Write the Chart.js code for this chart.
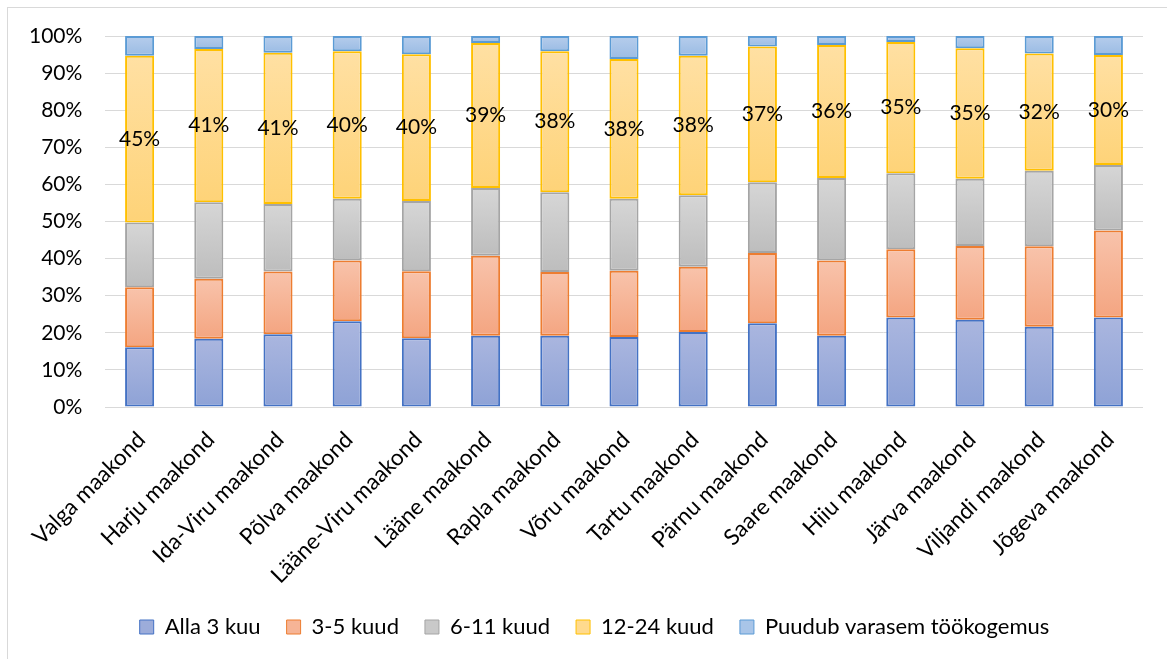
<!DOCTYPE html>
<html>
<head>
<meta charset="utf-8">
<script src="https://cdn.jsdelivr.net/npm/chart.js@4"></script>
<style>
  html, body { margin: 0; padding: 0; background: #fff; }
  #wrap { position: relative; width: 1167px; height: 659px; overflow: hidden; }
  #frame { position: absolute; left: 7px; top: 7px; width: 1200px; height: 700px; border: 1px solid #d9d9d9; box-sizing: border-box; }
  #c { position: absolute; left: 0; top: 0; }
</style>
</head>
<body>
<div id="wrap">
  <div id="frame"></div>
  <canvas id="c" width="1167" height="659"></canvas>
</div>
<script>
const categories = ["Valga maakond", "Harju maakond", "Ida-Viru maakond", "Põlva maakond", "Lääne-Viru maakond", "Lääne maakond", "Rapla maakond", "Võru maakond", "Tartu maakond", "Pärnu maakond", "Saare maakond", "Hiiu maakond", "Järva maakond", "Viljandi maakond", "Jõgeva maakond"];
const seriesNames = ["Alla 3 kuu", "3-5 kuud", "6-11 kuud", "12-24 kuud", "Puudub varasem töökogemus"];
const alla3kuu   = [16.1, 18.4, 19.6, 23.1, 18.5, 19.2, 19.2, 18.9, 20.2, 22.6, 19.2, 24.1, 23.5, 21.6, 24.1];
const kuud3_5    = [16.2, 16.2, 16.9, 16.4, 18.1, 21.6, 17.2, 17.8, 17.6, 18.9, 20.3, 18.4, 19.9, 21.7, 23.5];
const kuud6_11   = [17.4, 20.6, 18.2, 16.6, 18.9, 18.2, 21.5, 19.4, 19.3, 19.1, 22.2, 20.5, 18.1, 20.4, 17.6];
const kuud12_24  = [45.0, 41.3, 40.8, 39.8, 39.6, 39.1, 38.0, 37.7, 37.6, 36.6, 35.9, 35.4, 35.2, 31.6, 29.7];
const puudub     = [5.3, 3.5, 4.5, 4.1, 4.9, 1.9, 4.1, 6.2, 5.3, 2.8, 2.4, 1.6, 3.3, 4.7, 5.1];
const yTicks = [0, 10, 20, 30, 40, 50, 60, 70, 80, 90, 100];

const FONT = "Lato";
const styles = [
  { top: "#aab6df", bottom: "#8ea2d6", mid: "#9cacda", border: "#4472c4" },
  { top: "#f8c3ab", bottom: "#f4a581", mid: "#f6b496", border: "#ed7d31" },
  { top: "#d6d6d6", bottom: "#bdbdbd", mid: "#c9c9c9", border: "#a5a5a5" },
  { top: "#ffe0a3", bottom: "#fed378", mid: "#ffda8e", border: "#ffc000" },
  { top: "#b6cdec", bottom: "#9bbce4", mid: "#a9c5e8", border: "#5b9bd5" }
];

function gradFill(st) {
  return function (ctx) {
    const chart = ctx.chart;
    const ys = chart.scales && chart.scales.y;
    if (!ys || ctx.type !== "data" || ctx.dataIndex === undefined) return st.mid;
    let base = 0;
    for (let d = 0; d < ctx.datasetIndex; d++) base += chart.data.datasets[d].data[ctx.dataIndex];
    const v = chart.data.datasets[ctx.datasetIndex].data[ctx.dataIndex];
    const y0 = ys.getPixelForValue(base + v), y1 = ys.getPixelForValue(base);
    if (!isFinite(y0) || !isFinite(y1) || Math.abs(y1 - y0) < 1) return st.mid;
    const g = chart.ctx.createLinearGradient(0, y0, 0, y1);
    g.addColorStop(0, st.top);
    g.addColorStop(1, st.bottom);
    return g;
  };
}

const seriesData = [alla3kuu, kuud3_5, kuud6_11, kuud12_24, puudub];
const datasets = seriesData.map((d, i) => ({
  label: seriesNames[i],
  data: d,
  backgroundColor: gradFill(styles[i]),
  borderColor: styles[i].border,
  borderWidth: 2,
  borderSkipped: false,
  categoryPercentage: 1.0,
  barPercentage: 0.42
}));

const labelPlugin = {
  id: "segLabels",
  afterDatasetsDraw(chart) {
    const ctx = chart.ctx;
    const meta = chart.getDatasetMeta(3);
    ctx.save();
    ctx.font = "21px " + FONT;
    ctx.fillStyle = "#000";
    ctx.textAlign = "center";
    ctx.textBaseline = "middle";
    meta.data.forEach((bar, i) => {
      const p = bar.getProps(["x", "y", "base"], true);
      ctx.fillText(Math.round(kuud12_24[i]) + "%", p.x, (p.y + p.base) / 2);
    });
    ctx.restore();
  }
};

const xLabelPlugin = {
  id: "xLabels",
  afterDraw(chart) {
    const ctx = chart.ctx;
    const xs = chart.scales.x;
    const bottom = chart.chartArea.bottom;
    ctx.save();
    ctx.font = "22.5px " + FONT;
    ctx.fillStyle = "#000";
    ctx.textAlign = "right";
    ctx.textBaseline = "top";
    categories.forEach((lab, i) => {
      const x = xs.getPixelForValue(i);
      ctx.save();
      ctx.translate(x - 6, bottom + 21);
      ctx.rotate(-Math.PI / 4);
      ctx.fillText(lab, 0, 0);
      ctx.restore();
    });
    ctx.restore();
  }
};

new Chart(document.getElementById("c"), {
  type: "bar",
  data: { labels: categories, datasets: datasets },
  plugins: [labelPlugin, xLabelPlugin],
  options: {
    responsive: false,
    animation: false,
    devicePixelRatio: 1,
    layout: { padding: { left: 46, right: 24, top: 36, bottom: 11 } },
    scales: {
      x: {
        stacked: true,
        grid: { display: false },
        border: { display: false },
        ticks: { display: false },
        afterFit(axis) { axis.height = 183; }
      },
      y: {
        stacked: true,
        min: 0, max: 100,
        afterBuildTicks(axis) { axis.ticks = yTicks.map(v => ({ value: v })); },
        afterFit(axis) { axis.width = 59; },
        grid: { color: "#d9d9d9", lineWidth: 1, drawTicks: false },
        border: { display: false },
        ticks: {
          font: { family: FONT, size: 21 }, color: "#000",
          mirror: true, crossAlign: "far", padding: -76,
          callback: v => v + "%"
        }
      }
    },
    plugins: {
      tooltip: { enabled: false },
      legend: {
        position: "bottom",
        labels: {
          font: { family: FONT, size: 22 },
          color: "#000",
          boxWidth: 14,
          boxHeight: 14,
          padding: 26,
          generateLabels(chart) {
            return chart.data.datasets.map((ds, i) => ({
              text: ds.label,
              fillStyle: styles[i].mid,
              strokeStyle: styles[i].border,
              lineWidth: 1,
              hidden: false,
              datasetIndex: i,
              fontColor: "#000"
            }));
          }
        }
      }
    }
  }
});
</script>
</body>
</html>
